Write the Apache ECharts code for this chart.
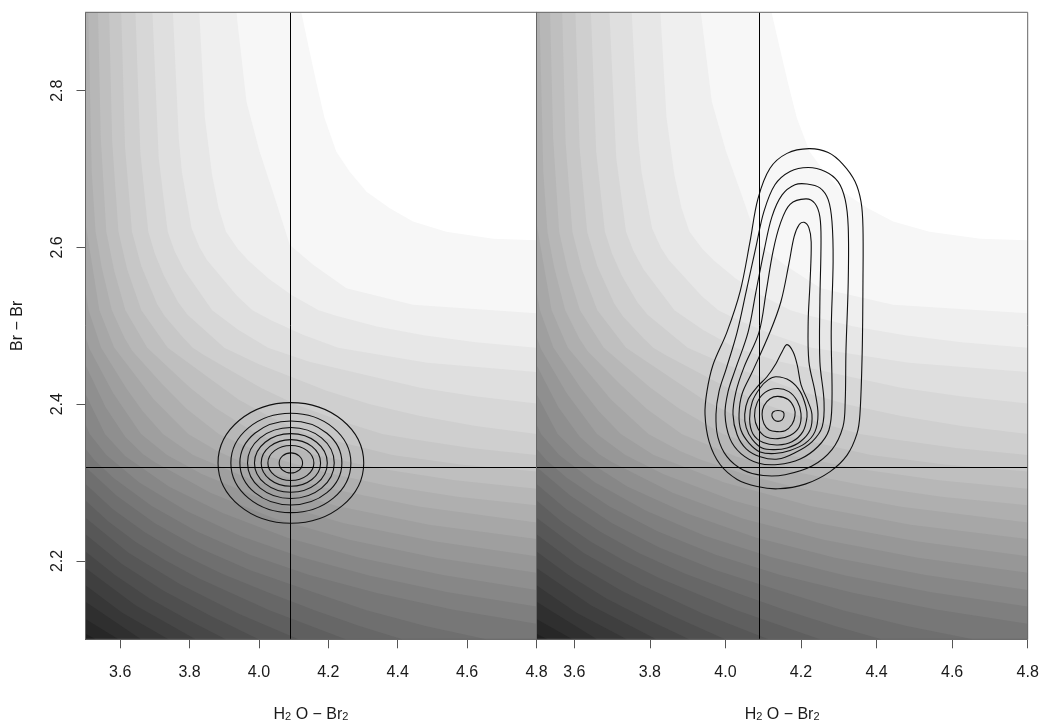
<!DOCTYPE html>
<html>
<head>
<meta charset="utf-8">
<script src="https://cdn.jsdelivr.net/npm/echarts@6/dist/echarts.min.js"></script>
<style>
  html, body { margin: 0; padding: 0; background: #fff; }
  #chart { width: 1040px; height: 721px; }
</style>
</head>
<body>
<div id="chart"></div>
<script>
// axes
const xRange = [3.5, 4.8]
const yRange = [2.1, 2.9]
const xTicks = [3.6, 3.8, 4.0, 4.2, 4.4, 4.6, 4.8]
const yTicks = [2.2, 2.4, 2.6, 2.8]

// crosshair (reference geometry)
const refX = 4.09
const refY = 2.32

// left panel: concentric contours (centre, semi-axes in data units)
const ellCenter = [4.092, 2.325]
const ellA = [0.210, 0.173, 0.147, 0.125, 0.105, 0.0856, 0.0663, 0.0337]
const ellB = [0.077, 0.0634, 0.0536, 0.0453, 0.0374, 0.0298, 0.0223, 0.0128]

// right panel: contour lines, outer -> inner
const rightContours = [
  [[4.221,2.726],[4.272,2.721],[4.311,2.706],[4.343,2.684],[4.359,2.658],[4.364,2.626],[4.364,2.556],[4.362,2.467],[4.356,2.387],[4.348,2.362],[4.322,2.335],[4.277,2.314],[4.211,2.298],[4.139,2.292],[4.084,2.295],[4.031,2.304],[3.986,2.323],[3.957,2.352],[3.946,2.387],[3.951,2.416],[3.967,2.450],[4.004,2.492],[4.039,2.544],[4.065,2.607],[4.086,2.662],[4.118,2.701],[4.163,2.720]],
  [[4.219,2.702],[4.264,2.697],[4.298,2.684],[4.317,2.661],[4.325,2.626],[4.325,2.556],[4.319,2.467],[4.317,2.403],[4.311,2.371],[4.282,2.342],[4.229,2.321],[4.158,2.310],[4.100,2.309],[4.047,2.316],[4.004,2.333],[3.980,2.358],[3.975,2.387],[3.983,2.416],[4.002,2.445],[4.031,2.492],[4.055,2.544],[4.081,2.601],[4.102,2.646],[4.131,2.680],[4.171,2.697]],
  [[4.216,2.681],[4.250,2.676],[4.272,2.661],[4.282,2.633],[4.285,2.582],[4.280,2.492],[4.282,2.403],[4.274,2.367],[4.245,2.346],[4.198,2.330],[4.139,2.323],[4.086,2.325],[4.041,2.337],[4.012,2.356],[3.999,2.387],[4.007,2.416],[4.026,2.444],[4.060,2.492],[4.081,2.544],[4.102,2.595],[4.123,2.639],[4.150,2.667],[4.184,2.680]],
  [[4.213,2.662],[4.237,2.656],[4.250,2.639],[4.253,2.607],[4.250,2.531],[4.250,2.454],[4.261,2.403],[4.256,2.371],[4.229,2.352],[4.184,2.338],[4.139,2.330],[4.092,2.333],[4.055,2.343],[4.031,2.361],[4.020,2.387],[4.028,2.416],[4.049,2.447],[4.089,2.492],[4.108,2.544],[4.126,2.595],[4.145,2.630],[4.171,2.655]],
  [[4.208,2.632],[4.221,2.625],[4.227,2.607],[4.224,2.556],[4.219,2.505],[4.221,2.454],[4.237,2.416],[4.245,2.387],[4.237,2.365],[4.211,2.350],[4.171,2.341],[4.131,2.337],[4.092,2.339],[4.063,2.350],[4.041,2.367],[4.036,2.387],[4.044,2.413],[4.071,2.441],[4.118,2.492],[4.147,2.531],[4.168,2.579],[4.182,2.614],[4.195,2.629]],
  [[4.163,2.476],[4.179,2.467],[4.190,2.450],[4.200,2.425],[4.219,2.403],[4.229,2.387],[4.224,2.367],[4.198,2.352],[4.163,2.344],[4.131,2.342],[4.097,2.344],[4.071,2.355],[4.055,2.370],[4.051,2.387],[4.060,2.406],[4.084,2.422],[4.110,2.435],[4.134,2.452],[4.150,2.467]],
  [[4.134,2.435],[4.171,2.430],[4.198,2.416],[4.213,2.397],[4.216,2.384],[4.205,2.365],[4.176,2.352],[4.139,2.348],[4.100,2.351],[4.073,2.362],[4.064,2.381],[4.071,2.403],[4.092,2.421],[4.113,2.431]],
  [[4.137,2.420],[4.168,2.416],[4.190,2.404],[4.200,2.388],[4.195,2.371],[4.171,2.360],[4.139,2.356],[4.108,2.358],[4.086,2.369],[4.077,2.385],[4.084,2.402],[4.105,2.415]],
  [[4.139,2.410],[4.166,2.406],[4.182,2.395],[4.184,2.385],[4.176,2.374],[4.158,2.366],[4.137,2.365],[4.116,2.367],[4.102,2.375],[4.097,2.387],[4.102,2.398],[4.118,2.407]],
  [[4.139,2.392],[4.153,2.390],[4.155,2.385],[4.150,2.380],[4.139,2.378],[4.129,2.380],[4.123,2.385],[4.126,2.390]]
]

// background shading: boundary between grey level k-1 and k (k = 1 .. 28),
// the darker level lies below / left of each curve
const bgCurves = [
  [[4.122,2.9],[4.146,2.85],[4.165,2.811],[4.189,2.765],[4.223,2.722],[4.261,2.697],[4.31,2.671],[4.377,2.65],[4.444,2.633],[4.54,2.62],[4.675,2.611],[4.8,2.609]],
  [[3.935,2.9],[3.964,2.786],[4.002,2.722],[4.04,2.671],[4.089,2.603],[4.156,2.578],[4.252,2.548],[4.444,2.527],[4.8,2.516]],
  [[3.828,2.9],[3.844,2.766],[3.865,2.692],[3.884,2.65],[3.905,2.62],[3.939,2.598],[3.97,2.583],[4.028,2.56],[4.095,2.539],[4.172,2.52],[4.22,2.513],[4.34,2.499],[4.475,2.488],[4.625,2.479],[4.8,2.472]],
  [[3.752,2.9],[3.769,2.738],[3.778,2.696],[3.806,2.624],[3.829,2.6],[3.85,2.584],[3.937,2.538],[3.981,2.52],[4.035,2.507],[4.125,2.489],[4.228,2.472],[4.485,2.453],[4.8,2.441]],
  [[3.693,2.9],[3.711,2.714],[3.737,2.62],[3.756,2.596],[3.783,2.572],[3.865,2.52],[3.94,2.495],[4.026,2.472],[4.145,2.454],[4.465,2.421],[4.622,2.41],[4.8,2.401]],
  [[3.644,2.9],[3.658,2.722],[3.681,2.62],[3.7,2.592],[3.726,2.564],[3.767,2.53],[3.794,2.514],[3.9,2.472],[4.0,2.451],[4.195,2.417],[4.32,2.4],[4.465,2.385],[4.625,2.372],[4.8,2.362]],
  [[3.603,2.9],[3.614,2.728],[3.634,2.62],[3.661,2.576],[3.706,2.528],[3.729,2.512],[3.783,2.484],[3.809,2.472],[3.84,2.463],[4.005,2.421],[4.11,2.399],[4.24,2.378],[4.356,2.362],[4.435,2.356],[4.61,2.344],[4.8,2.335]],
  [[3.568,2.9],[3.577,2.734],[3.595,2.62],[3.62,2.572],[3.661,2.52],[3.737,2.472],[3.941,2.406],[4.035,2.383],[4.139,2.362],[4.385,2.335],[4.58,2.323],[4.8,2.314]],
  [[3.536,2.9],[3.544,2.74],[3.56,2.62],[3.583,2.57],[3.615,2.52],[3.678,2.472],[3.799,2.422],[3.875,2.395],[3.993,2.362],[4.065,2.35],[4.165,2.335],[4.36,2.317],[4.565,2.303],[4.8,2.292]],
  [[3.508,2.9],[3.518,2.696],[3.529,2.62],[3.547,2.574],[3.576,2.52],[3.613,2.484],[3.635,2.468],[3.72,2.426],[3.792,2.394],[3.884,2.362],[4.03,2.333],[4.19,2.313],[4.37,2.296],[4.572,2.282],[4.8,2.271]],
  [[3.5,2.631],[3.54,2.52],[3.583,2.472],[3.697,2.406],[3.796,2.362],[3.881,2.34],[3.935,2.329],[4.055,2.31],[4.185,2.294],[4.465,2.269],[4.8,2.249]],
  [[3.5,2.544],[3.509,2.52],[3.545,2.472],[3.618,2.42],[3.665,2.391],[3.723,2.362],[3.81,2.335],[3.997,2.3],[4.225,2.27],[4.49,2.246],[4.8,2.228]],
  [[3.5,2.486],[3.512,2.47],[3.58,2.414],[3.66,2.362],[3.735,2.335],[3.835,2.311],[4.02,2.277],[4.245,2.248],[4.505,2.225],[4.8,2.206]],
  [[3.5,2.45],[3.558,2.396],[3.615,2.358],[3.666,2.336],[3.7,2.326],[3.86,2.287],[4.045,2.254],[4.26,2.227],[4.51,2.204],[4.8,2.185]],
  [[3.5,2.413],[3.556,2.362],[3.614,2.334],[3.74,2.295],[3.895,2.261],[4.08,2.23],[4.29,2.204],[4.53,2.182],[4.8,2.163]],
  [[3.5,2.374],[3.512,2.362],[3.56,2.335],[3.655,2.3],[3.79,2.264],[3.945,2.232],[4.12,2.205],[4.32,2.181],[4.545,2.16],[4.8,2.142]],
  [[3.5,2.343],[3.525,2.329],[3.58,2.306],[3.691,2.27],[3.82,2.238],[3.974,2.208],[4.145,2.182],[4.34,2.159],[4.557,2.138],[4.8,2.12]],
  [[3.5,2.32],[3.59,2.283],[3.7,2.248],[3.825,2.217],[3.975,2.188],[4.145,2.162],[4.31,2.137],[4.48,2.117],[4.655,2.1]],
  [[3.5,2.298],[3.579,2.266],[3.67,2.237],[3.775,2.209],[3.892,2.184],[4.025,2.16],[4.16,2.137],[4.29,2.117],[4.413,2.1]],
  [[3.5,2.277],[3.567,2.25],[3.645,2.224],[3.73,2.201],[3.826,2.178],[4.03,2.137],[4.25,2.1]],
  [[3.5,2.255],[3.625,2.21],[3.774,2.17],[3.94,2.133],[4.114,2.1]],
  [[3.5,2.234],[3.605,2.196],[3.725,2.162],[3.86,2.13],[3.999,2.1]],
  [[3.5,2.212],[3.585,2.182],[3.685,2.152],[3.795,2.125],[3.904,2.1]],
  [[3.5,2.191],[3.645,2.143],[3.817,2.1]],
  [[3.5,2.169],[3.606,2.134],[3.739,2.1]],
  [[3.5,2.148],[3.66,2.1]],
  [[3.5,2.126],[3.595,2.1]],
  [[3.5,2.107],[3.529,2.1]]
]
const bgStep = 8.0   // grey drop per level

const FONT = 'Liberation Sans, Arial, sans-serif'
const TEXT = '#1a1a1a'

// filled region below/left of a level curve, closed round the lower-left corner
function bgItem(params, api) {
  const k = params.dataIndex
  const ring = bgCurves[k].concat([[xRange[1], yRange[0]], [xRange[0], yRange[0]], [xRange[0], yRange[1]]])
  const g = Math.round(255 - bgStep * (k + 1))
  return {
    type: 'polygon',
    shape: { points: ring.map(p => api.coord(p)) },
    style: { fill: 'rgb(' + g + ',' + g + ',' + g + ')', stroke: null }
  }
}

function ellipseItem(params, api) {
  const i = params.dataIndex
  const c = api.coord(ellCenter)
  return {
    type: 'ellipse',
    shape: { cx: c[0], cy: c[1], rx: api.size([ellA[i], 0])[0], ry: api.size([0, ellB[i]])[1] },
    style: { fill: null, stroke: '#111', lineWidth: 1.1 }
  }
}

function contourItem(params, api) {
  const pts = rightContours[params.dataIndex].map(p => api.coord(p))
  return {
    type: 'polygon',
    shape: { points: pts, smooth: 0.35 },
    style: { fill: null, stroke: '#111', lineWidth: 1.1 }
  }
}

const xName = '{m|H}{s|2}{m| O \u2212 Br}{s|2}'
const nameRich = {
  m: { fontSize: 16, lineHeight: 18, verticalAlign: 'bottom', color: TEXT, fontFamily: FONT },
  s: { fontSize: 11, lineHeight: 8, padding: [10, 0, 0, 0], verticalAlign: 'bottom', color: TEXT, fontFamily: FONT }
}

function xAxis(i) {
  return {
    type: 'value', gridIndex: i, min: xRange[0], max: xRange[1],
    splitLine: { show: false },
    axisLine: { show: true, lineStyle: { color: '#666', width: 1 } },
    axisTick: { show: true, length: 9, customValues: xTicks, lineStyle: { color: '#555' } },
    axisLabel: { customValues: xTicks, formatter: v => v.toFixed(1), fontSize: 16, color: TEXT, fontFamily: FONT, margin: 25 },
    name: xName, nameLocation: 'middle', nameGap: 65,
    nameTextStyle: { rich: nameRich }
  }
}

function yAxis(i) {
  const ax = {
    type: 'value', gridIndex: i, min: yRange[0], max: yRange[1],
    splitLine: { show: false },
    axisLine: { show: true, lineStyle: { color: '#666', width: 1 } },
    axisTick: { show: i === 0, length: 9, customValues: yTicks, lineStyle: { color: '#555' } },
    axisLabel: { show: i === 0, customValues: yTicks, formatter: v => v.toFixed(1), rotate: 90, fontSize: 16, color: TEXT, fontFamily: FONT, margin: 20 }
  }
  if (i === 0) {
    ax.name = 'Br \u2212 Br'
    ax.nameLocation = 'middle'
    ax.nameGap = 60
    ax.nameRotate = 90
    ax.nameTextStyle = { fontSize: 16, color: TEXT, fontFamily: FONT }
  }
  return ax
}

function crossSeries(i) {
  return {
    type: 'line', xAxisIndex: i, yAxisIndex: i, data: [], z: 3,
    markLine: {
      silent: true, symbol: ['none', 'none'], label: { show: false }, animation: false,
      lineStyle: { color: '#000', width: 1, type: 'solid' },
      data: [{ xAxis: refX }, { yAxis: refY }]
    }
  }
}

function bgSeries(i) {
  return {
    type: 'custom', xAxisIndex: i, yAxisIndex: i, silent: true, z: 1,
    renderItem: bgItem,
    data: bgCurves.map((c, k) => [c[0][0], c[0][1], k])
  }
}

const gridBase = { top: 12.3, height: 627, outerBoundsMode: 'none', show: true, borderColor: '#666', borderWidth: 1, backgroundColor: 'transparent', z: 10 }

const chart = echarts.init(document.getElementById('chart'), null, { renderer: 'canvas' })
chart.setOption({
  animation: false,
  backgroundColor: '#fff',
  grid: [
    Object.assign({ left: 85.5, width: 451 }, gridBase),
    Object.assign({ left: 536.5, width: 491.2 }, gridBase)
  ],
  xAxis: [xAxis(0), xAxis(1)],
  yAxis: [yAxis(0), yAxis(1)],
  series: [
    bgSeries(0),
    bgSeries(1),
    crossSeries(0),
    crossSeries(1),
    {
      type: 'custom', xAxisIndex: 0, yAxisIndex: 0, silent: true, z: 4,
      renderItem: ellipseItem,
      data: ellA.map((a, i) => [ellCenter[0], ellCenter[1], i])
    },
    {
      type: 'custom', xAxisIndex: 1, yAxisIndex: 1, silent: true, z: 4,
      renderItem: contourItem,
      data: rightContours.map((c, i) => [c[0][0], c[0][1], i])
    }
  ]
})
</script>
</body>
</html>
